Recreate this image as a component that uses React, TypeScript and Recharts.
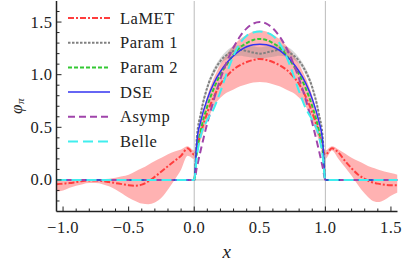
import { ComposedChart, Line, Area, XAxis, YAxis, ReferenceLine } from 'recharts';

// LaMET result with its error band, sampled over the full x range
const lametX = [-1.05, -1.0, -0.95, -0.9, -0.85, -0.8, -0.75, -0.7, -0.65, -0.6, -0.55, -0.5, -0.45, -0.4, -0.35, -0.3, -0.25, -0.2, -0.15, -0.1, -0.05, 0, 0.05, 0.1, 0.15, 0.2, 0.25, 0.3, 0.35, 0.4, 0.45, 0.5, 0.55, 0.6, 0.65, 0.7, 0.75, 0.8, 0.85, 0.9, 0.95, 1.0, 1.05, 1.1, 1.15, 1.2, 1.25, 1.3, 1.35, 1.4, 1.45, 1.5, 1.55];
const lamet = [-0.04, -0.035, -0.03, -0.02, -0.01, -0.005, -0.005, -0.01, -0.02, -0.03, -0.04, -0.05, -0.055, -0.045, -0.015, 0.03, 0.08, 0.13, 0.18, 0.23, 0.3, 0.24, 0.45, 0.64, 0.79, 0.91, 0.99, 1.05, 1.09, 1.12, 1.14, 1.15, 1.14, 1.12, 1.09, 1.05, 0.99, 0.91, 0.79, 0.64, 0.45, 0.24, 0.3, 0.26, 0.18, 0.11, 0.05, 0.01, -0.02, -0.035, -0.045, -0.05, -0.05];
const lametLow = [-0.11, -0.1, -0.075, -0.055, -0.04, -0.03, -0.03, -0.04, -0.06, -0.09, -0.13, -0.17, -0.2, -0.225, -0.23, -0.215, -0.17, -0.09, 0.0, 0.1, 0.23, 0.2, 0.38, 0.56, 0.7, 0.78, 0.83, 0.86, 0.89, 0.91, 0.925, 0.93, 0.925, 0.91, 0.89, 0.86, 0.83, 0.78, 0.7, 0.56, 0.38, 0.2, 0.28, 0.2, 0.12, 0.04, -0.05, -0.13, -0.19, -0.21, -0.19, -0.15, -0.12];
const lametHigh = [0.0, 0.0, 0.0, 0.0, 0.0, 0.0, 0.0, 0.005, 0.01, 0.02, 0.035, 0.05, 0.08, 0.11, 0.145, 0.18, 0.21, 0.245, 0.27, 0.29, 0.32, 0.28, 0.55, 0.8, 0.97, 1.1, 1.2, 1.28, 1.34, 1.38, 1.41, 1.42, 1.41, 1.38, 1.34, 1.28, 1.2, 1.1, 0.97, 0.8, 0.55, 0.28, 0.32, 0.29, 0.25, 0.21, 0.18, 0.15, 0.12, 0.1, 0.08, 0.065, 0.05];

// model curves, zero outside [0, 1]
const modelX = [-1.05, 0, 0.02, 0.05, 0.1, 0.15, 0.2, 0.25, 0.3, 0.35, 0.4, 0.45, 0.5, 0.55, 0.6, 0.65, 0.7, 0.75, 0.8, 0.85, 0.9, 0.95, 0.98, 1.0, 1.55];
const param1 = [0, 0, 0.4, 0.63, 0.88, 1.03, 1.13, 1.19, 1.225, 1.235, 1.225, 1.21, 1.2, 1.21, 1.225, 1.235, 1.225, 1.19, 1.13, 1.03, 0.88, 0.63, 0.4, 0, 0];
const param1Low = [null, 0, 0.38, 0.6, 0.85, 1.0, 1.1, 1.15, 1.17, 1.18, 1.17, 1.16, 1.15, 1.16, 1.17, 1.18, 1.17, 1.15, 1.1, 1.0, 0.85, 0.6, 0.38, 0, null];
const param1High = [null, 0, 0.42, 0.66, 0.91, 1.06, 1.16, 1.23, 1.27, 1.28, 1.28, 1.27, 1.26, 1.27, 1.28, 1.28, 1.27, 1.23, 1.16, 1.06, 0.91, 0.66, 0.42, 0, null];
const param2 = [0, 0, 0.26, 0.47, 0.7, 0.87, 1.0, 1.1, 1.19, 1.26, 1.3, 1.33, 1.34, 1.33, 1.3, 1.26, 1.19, 1.1, 1.0, 0.87, 0.7, 0.47, 0.26, 0, 0];
const dse = [0, 0, 0.36, 0.56, 0.77, 0.92, 1.03, 1.115, 1.18, 1.23, 1.265, 1.285, 1.29, 1.285, 1.265, 1.23, 1.18, 1.115, 1.03, 0.92, 0.77, 0.56, 0.36, 0, 0];
const asymp = [0, 0, 0.118, 0.285, 0.54, 0.765, 0.96, 1.125, 1.26, 1.365, 1.44, 1.485, 1.5, 1.485, 1.44, 1.365, 1.26, 1.125, 0.96, 0.765, 0.54, 0.285, 0.118, 0, 0];
const belle = [0, 0, 0.22, 0.42, 0.57, 0.68, 0.84, 1.02, 1.18, 1.3, 1.37, 1.4, 1.41, 1.4, 1.37, 1.3, 1.18, 1.02, 0.84, 0.68, 0.57, 0.42, 0.22, 0, 0];

const xTicks = [-1.0, -0.9, -0.8, -0.7, -0.6, -0.5, -0.4, -0.3, -0.2, -0.1, 0, 0.1, 0.2, 0.3, 0.4, 0.5, 0.6, 0.7, 0.8, 0.9, 1.0, 1.1, 1.2, 1.3, 1.4, 1.5];
const xMajor = [-1.0, -0.5, 0, 0.5, 1.0, 1.5];
const yTicks = [-0.2, -0.1, 0, 0.1, 0.2, 0.3, 0.4, 0.5, 0.6, 0.7, 0.8, 0.9, 1.0, 1.1, 1.2, 1.3, 1.4, 1.5, 1.6];
const yMajor = [0, 0.5, 1.0, 1.5];

const AXIS = '#222';
const FONT = 'Liberation Serif, Times New Roman, DejaVu Serif, serif';

const series = [
  { key: 'lamet', name: 'LaMET', color: '#ff3d3d', dash: '6 2 2 2', width: 2 },
  { key: 'param1', name: 'Param 1', color: '#808080', dash: '2.5 1.5', width: 2 },
  { key: 'param2', name: 'Param 2', color: '#33c833', dash: '4 2', width: 2 },
  { key: 'dse', name: 'DSE', color: '#3333f0', dash: undefined, width: 1.5 },
  { key: 'asymp', name: 'Asymp', color: '#a044aa', dash: '7 4', width: 2 },
  { key: 'belle', name: 'Belle', color: '#40eeee', dash: '10 5', width: 2 },
];

type Row = { [k: string]: any };
const rowMap = new Map<string, Row>();
const rowAt = (x: number) => {
  const k = x.toFixed(3);
  if (!rowMap.has(k)) rowMap.set(k, { x });
  return rowMap.get(k)!;
};
lametX.forEach((x, i) => {
  const r = rowAt(x);
  r.lamet = lamet[i];
  r.lametBand = [lametLow[i], lametHigh[i]];
});
modelX.forEach((x, i) => {
  const r = rowAt(x);
  r.param1 = param1[i];
  r.param2 = param2[i];
  r.dse = dse[i];
  r.asymp = asymp[i];
  r.belle = belle[i];
  if (param1Low[i] !== null) r.param1Band = [param1Low[i], param1High[i]];
});
const data = [...rowMap.values()].sort((a, b) => a.x - b.x);

const isMajor = (v: number, list: number[]) => list.some((m) => Math.abs(m - v) < 1e-6);
const fmt = (v: number) => (Math.abs(v) < 1e-9 ? '0.0' : v.toFixed(1).replace('-', '\u2212'));

const textProps = { fontFamily: FONT, fontSize: 16.5, fill: '#222', letterSpacing: 0.5 };

function BottomTick(props: any) {
  const { x, y, payload } = props;
  const major = isMajor(payload.value, xMajor);
  return (
    <g>
      <line x1={x} x2={x} y1={y} y2={y - (major ? 5 : 3)} stroke={AXIS} strokeWidth={1} />
      {major && (
        <text x={x} y={y + 16} textAnchor="middle" dominantBaseline="central" {...textProps}>
          {fmt(payload.value)}
        </text>
      )}
    </g>
  );
}

function TopTick(props: any) {
  const { x, y, payload } = props;
  const major = isMajor(payload.value, xMajor);
  return <line x1={x} x2={x} y1={y} y2={y + (major ? 5 : 3)} stroke={AXIS} strokeWidth={1} />;
}

function LeftTick(props: any) {
  const { x, y, payload } = props;
  const major = isMajor(payload.value, yMajor);
  return (
    <g>
      <line x1={x} x2={x + (major ? 5 : 3)} y1={y} y2={y} stroke={AXIS} strokeWidth={1} />
      {major && (
        <text x={x - 4} y={y} textAnchor="end" dominantBaseline="central" {...textProps}>
          {fmt(payload.value)}
        </text>
      )}
    </g>
  );
}

function RightTick(props: any) {
  const { x, y, payload } = props;
  const major = isMajor(payload.value, yMajor);
  return <line x1={x} x2={x - (major ? 5 : 3)} y1={y} y2={y} stroke={AXIS} strokeWidth={1} />;
}

function Overlay() {
  const x0 = 68;
  const x1 = 110;
  return (
    <svg width={403} height={264} style={{ position: 'absolute', left: 0, top: 0, pointerEvents: 'none' }}>
      {series.map((s, i) => {
        const y = 18 + i * 24.7;
        return (
          <g key={s.key}>
            <line x1={x0} x2={x1} y1={y} y2={y} stroke={s.color} strokeWidth={s.width} strokeDasharray={s.dash} />
            <text x={120} y={y} dominantBaseline="central" {...textProps}>
              {s.name}
            </text>
          </g>
        );
      })}
      <text x={227} y={251} textAnchor="middle" dominantBaseline="central" {...textProps} fontSize={19} fontStyle="italic">
        x
      </text>
      <text transform="translate(16 106) rotate(-90)" textAnchor="middle" dominantBaseline="central" {...textProps} fontSize={17}>
        <tspan fontStyle="italic">φ</tspan>
        <tspan fontStyle="italic" fontSize={11} dy={4}>π</tspan>
      </text>
    </svg>
  );
}

export default function App() {
  return (
    <div style={{ position: 'absolute', left: 0, top: 0, width: 403, height: 264, background: '#fff', fontFamily: FONT }}>
      <ComposedChart width={403} height={264} data={data} margin={{ top: 1, right: 5.5, bottom: 0, left: 0 }}>
        <XAxis
          dataKey="x"
          type="number"
          domain={[-1.05, 1.55]}
          ticks={xTicks}
          interval={0}
          allowDataOverflow
          height={52.5}
          tickSize={0}
          tickMargin={0}
          tickLine={false}
          axisLine={{ stroke: AXIS, strokeWidth: 1.5 }}
          tick={<BottomTick />}
        />
        <XAxis
          xAxisId="top"
          orientation="top"
          dataKey="x"
          type="number"
          domain={[-1.05, 1.55]}
          ticks={xTicks}
          interval={0}
          allowDataOverflow
          height={0}
          tickSize={0}
          tickMargin={0}
          tickLine={false}
          axisLine={{ stroke: AXIS, strokeWidth: 1.5 }}
          tick={<TopTick />}
        />
        <YAxis
          type="number"
          domain={[-0.3, 1.7]}
          ticks={yTicks}
          interval={0}
          allowDataOverflow
          width={56.5}
          tickSize={0}
          tickMargin={0}
          tickLine={false}
          axisLine={{ stroke: AXIS, strokeWidth: 1.5 }}
          tick={<LeftTick />}
        />
        <YAxis
          yAxisId="right"
          orientation="right"
          type="number"
          domain={[-0.3, 1.7]}
          ticks={yTicks}
          interval={0}
          allowDataOverflow
          width={0}
          tickSize={0}
          tickMargin={0}
          tickLine={false}
          axisLine={{ stroke: AXIS, strokeWidth: 1.5 }}
          tick={<RightTick />}
        />
        <ReferenceLine x={0} stroke="#bbbbbb" strokeWidth={1} />
        <ReferenceLine x={1} stroke="#bbbbbb" strokeWidth={1} />
        <ReferenceLine y={0} stroke="#bbbbbb" strokeWidth={1} />
        <Area
          dataKey="lametBand"
          type="monotone"
          stroke="none"
          fill="#ff0000"
          fillOpacity={0.3}
          connectNulls
          dot={false}
          activeDot={false}
          isAnimationActive={false}
        />
        <Area
          dataKey="param1Band"
          type="monotone"
          stroke="none"
          fill="#808080"
          fillOpacity={0.3}
          connectNulls
          dot={false}
          activeDot={false}
          isAnimationActive={false}
        />
        {series.map((s) => (
          <Line
            key={s.key}
            dataKey={s.key}
            name={s.name}
            type="monotone"
            stroke={s.color}
            strokeWidth={s.width}
            strokeDasharray={s.dash}
            connectNulls
            dot={false}
            activeDot={false}
            isAnimationActive={false}
          />
        ))}
      </ComposedChart>
      <Overlay />
    </div>
  );
}
